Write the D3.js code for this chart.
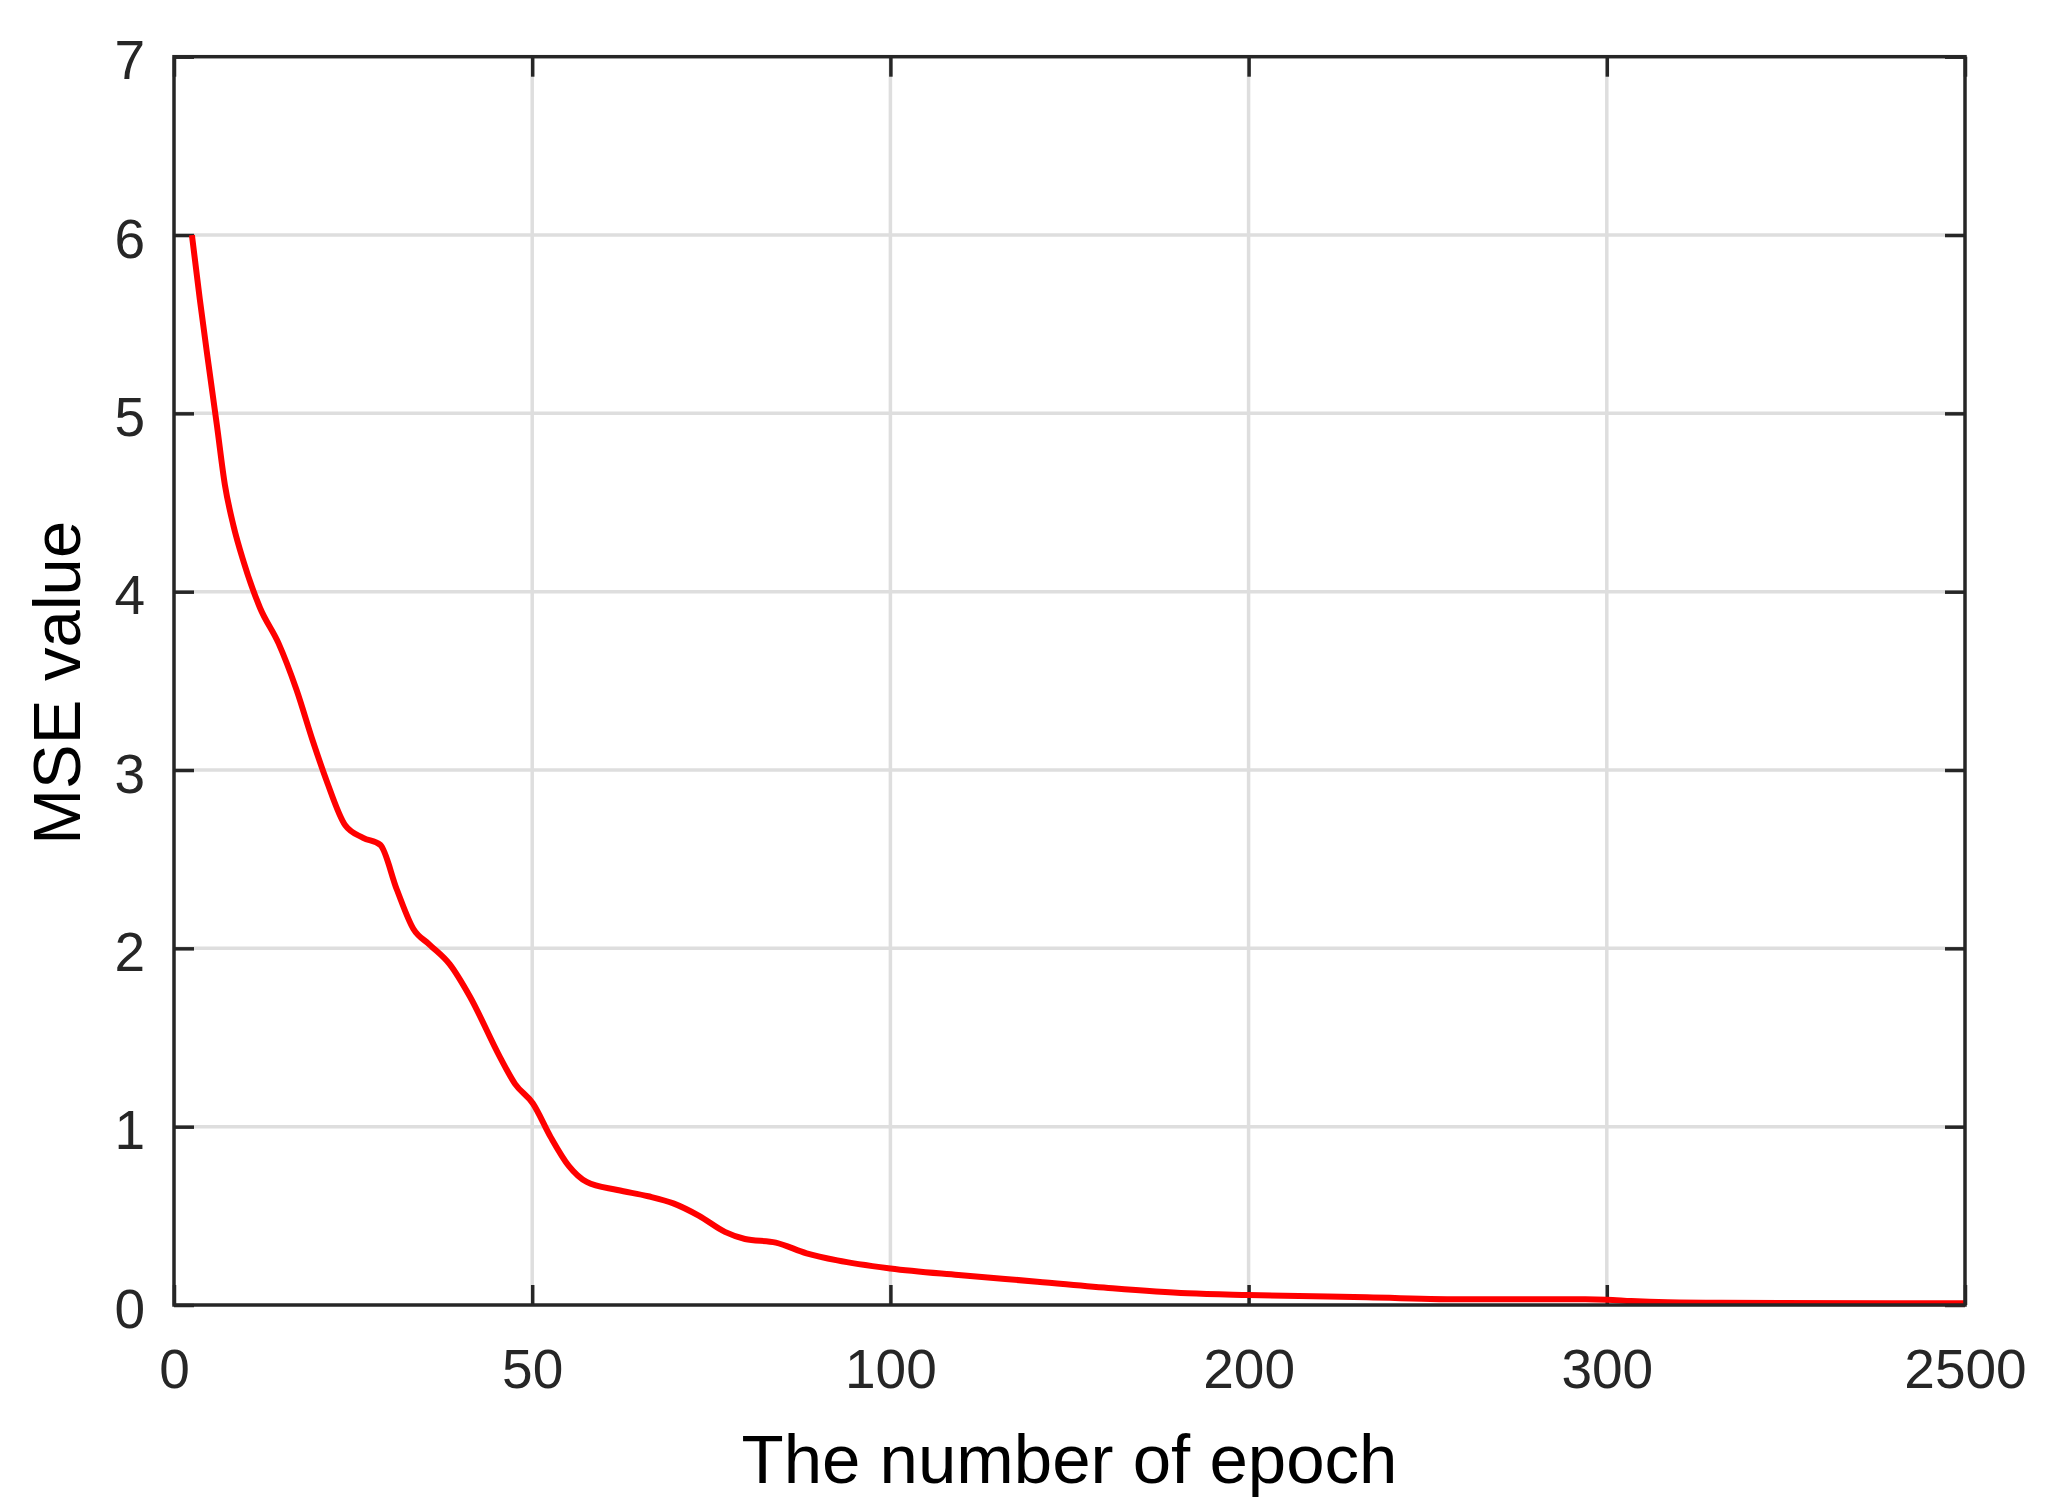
<!DOCTYPE html>
<html>
<head>
<meta charset="utf-8">
<script src="https://cdn.jsdelivr.net/npm/d3@7"></script>
<style>
  html, body { margin: 0; padding: 0; background: #ffffff; }
  svg { display: block; }
  text { font-family: "Liberation Sans", Arial, Helvetica, sans-serif; }
</style>
</head>
<body>
<svg id="chart" width="2051" height="1508"></svg>
<script>
// ---- data ----
const xTickValues = [0, 50, 100, 200, 300, 2500];
const xTickLabels = ["0", "50", "100", "200", "300", "2500"];
const yTickValues = [0, 1, 2, 3, 4, 5, 6, 7];

const epochs = [2.5, 3.6, 4.8, 6, 7.1, 8.3, 9.7, 12, 14.6, 17.1, 19.4, 21.3, 23.9, 26.4, 28.8,
  31.1, 33.4, 35.7, 38.5, 41.3, 45.5, 47.6, 50.1, 52.6, 55.1, 57.6, 61.9, 66.2, 69.7, 73.3,
  76.9, 79.7, 84, 88.3, 92.6, 100, 119, 141, 162, 183, 200, 233, 261, 294, 300, 450, 674, 1000, 2500];
const mseValues = [6.0, 5.64, 5.28, 4.93, 4.6, 4.37, 4.17, 3.91, 3.71, 3.45, 3.16, 2.94, 2.69, 2.62, 2.58,
  2.33, 2.11, 2.02, 1.91, 1.73, 1.39, 1.24, 1.13, 0.94, 0.78, 0.69, 0.645, 0.61, 0.57, 0.50,
  0.41, 0.37, 0.35, 0.29, 0.25, 0.205, 0.168, 0.131, 0.094, 0.066, 0.056, 0.043, 0.032, 0.032, 0.03, 0.022, 0.015, 0.012, 0.01];

const xTitle = "The number of epoch";
const yTitle = "MSE value";

// ---- layout ----
const pLeft = 174, pRight = 1965, pTop = 56.7, pBottom = 1305;
const plotW = pRight - pLeft, plotH = pBottom - pTop;
const axisColor = "#262626";
const gridColor = "#dedede";

const svg = d3.select("#chart");
svg.append("rect").attr("width", 2051).attr("height", 1508).attr("fill", "#ffffff");

// piecewise (equally spaced) x scale
const x = d3.scaleLinear()
  .domain(xTickValues)
  .range(xTickValues.map((d, i) => pLeft + i * plotW / (xTickValues.length - 1)));
const y = d3.scaleLinear().domain([0, 7]).range([pBottom, pTop]);

// ---- grid ----
const grid = svg.append("g");
grid.selectAll("line.vg").data(xTickValues.slice(1, -1)).enter().append("line")
  .attr("x1", d => x(d)).attr("x2", d => x(d))
  .attr("y1", pTop).attr("y2", pBottom)
  .attr("stroke", gridColor).attr("stroke-width", 3.5);
grid.selectAll("line.hg").data(yTickValues.slice(1, -1)).enter().append("line")
  .attr("x1", pLeft).attr("x2", pRight)
  .attr("y1", d => y(d)).attr("y2", d => y(d))
  .attr("stroke", gridColor).attr("stroke-width", 3.5);

// ---- axes ----
const tickLen = 20;
const fmtX = (d, i) => xTickLabels[i];

const gx = svg.append("g").attr("transform", `translate(0,${pBottom})`)
  .call(d3.axisBottom(x).tickValues(xTickValues).tickFormat(fmtX)
    .tickSizeInner(-tickLen).tickSizeOuter(0).tickPadding(44));
const gxTop = svg.append("g").attr("transform", `translate(0,${pTop})`)
  .call(d3.axisTop(x).tickValues(xTickValues).tickFormat("")
    .tickSizeInner(-tickLen).tickSizeOuter(0));
const gy = svg.append("g").attr("transform", `translate(${pLeft},0)`)
  .call(d3.axisLeft(y).tickValues(yTickValues).tickFormat(d3.format("d"))
    .tickSizeInner(-tickLen).tickSizeOuter(0).tickPadding(29));
const gyRight = svg.append("g").attr("transform", `translate(${pRight},0)`)
  .call(d3.axisRight(y).tickValues(yTickValues).tickFormat("")
    .tickSizeInner(-tickLen).tickSizeOuter(0));

[gx, gxTop, gy, gyRight].forEach(g => {
  g.select(".domain").remove();
  g.selectAll(".tick line").attr("stroke", axisColor).attr("stroke-width", 3.5);
  g.selectAll(".tick text")
    .attr("fill", axisColor)
    .style("font-size", "55px")
    .style("font-family", '"Liberation Sans", Arial, Helvetica, sans-serif');
});
gy.selectAll(".tick text").attr("dy", "0.4em");

// ---- data line ----
const line = d3.line()
  .x((d, i) => x(epochs[i]))
  .y((d, i) => y(mseValues[i]))
  .curve(d3.curveMonotoneX);
svg.append("path")
  .datum(mseValues)
  .attr("d", line)
  .attr("fill", "none")
  .attr("stroke", "#ff0000")
  .attr("stroke-width", 6)
  .attr("stroke-linejoin", "round");

// ---- box ----
svg.append("rect")
  .attr("x", pLeft).attr("y", pTop)
  .attr("width", plotW).attr("height", plotH)
  .attr("fill", "none").attr("stroke", axisColor).attr("stroke-width", 3.5);

// ---- titles ----
svg.append("text")
  .attr("x", (pLeft + pRight) / 2).attr("y", 1483)
  .attr("text-anchor", "middle")
  .attr("fill", "#000000")
  .style("font-size", "69px")
  .text(xTitle);
svg.append("text")
  .attr("transform", `translate(80,${(pTop + pBottom) / 2 + 2}) rotate(-90)`)
  .attr("text-anchor", "middle")
  .attr("fill", "#000000")
  .style("font-size", "67px")
  .text(yTitle);
</script>
</body>
</html>
